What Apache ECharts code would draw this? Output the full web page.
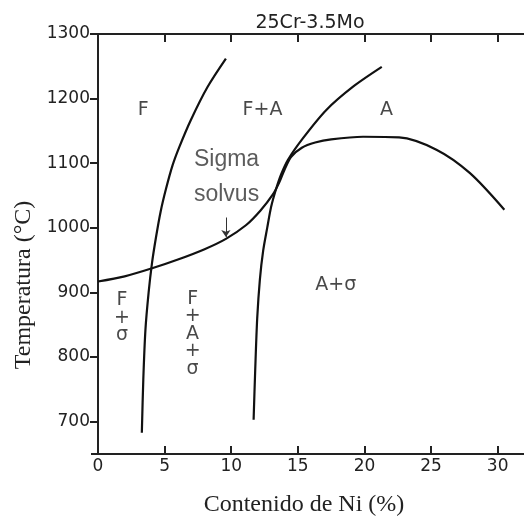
<!DOCTYPE html>
<html>
<head>
<meta charset="utf-8">
<script src="https://cdn.jsdelivr.net/npm/echarts@6/dist/echarts.min.js"></script>
<style>
    html, body {margin: 0; padding: 0; background: #fff;}
    #chart {width: 524px; height: 517px;}
</style>
</head>
<body>
<div id="chart"></div>
<script>
// 曲线数据 (Ni %, 温度 °C)
var ferriteNi = [3.29, 3.4, 3.56, 3.8, 4.05, 4.35, 4.7, 5.1, 5.6, 6.1, 6.97, 8.22, 9.6];
var ferriteT = [683, 765, 842, 900, 945, 985, 1025, 1060, 1097, 1125, 1167, 1218, 1262];

var austeniteNi = [11.68, 11.8, 11.95, 12.15, 12.4, 12.7, 13.0, 13.35, 13.75, 14.25, 15.36, 17.12, 19.12, 21.3];
var austeniteT = [703, 780, 860, 920, 965, 1000, 1033, 1059, 1083, 1105, 1138, 1182, 1218, 1249];

var sigmaNi = [0, 2, 4, 6, 8, 9.6, 11.1, 12.2, 13.1, 13.6, 14.0, 14.5, 15.3, 16.3, 17.5, 19.9, 22.6, 25.4, 27.9, 30.5];
var sigmaT = [917, 925, 937, 951, 967, 983, 1004, 1027, 1051, 1070, 1090, 1110, 1124, 1132, 1137, 1141, 1140, 1121, 1085, 1028];

// 区域标签
var regionNames = ['F', 'F+A', 'A', 'A+σ', 'F\n+\nσ', 'F\n+\nA\n+\nσ'];
var regionNi = [3.4, 12.35, 21.65, 17.85, 1.8, 7.1];
var regionT = [1183, 1183, 1183, 911, 861, 836];

var solvusNames = ['Sigma', 'solvus'];
var solvusNi = [9.65, 9.65];
var solvusT = [1105, 1052];

var arrowNi = 9.6;
var arrowT = [1016, 986];

// x 轴刻度 (上下边框的内刻度)
var xTicks = [5, 10, 15, 20, 25, 30];

var xName = 'Contenido de Ni (%)';
var yName = 'Temperatura (°C)';

var tMin = 650, tMax = 1300;
var tickLenT = 12;   // 刻度长度 (温度单位, 约 8px)

function pairs(xs, ys) {
    var out = [];
    for (var i = 0; i < xs.length; i++) {
        out.push([xs[i], ys[i]]);
    }
    return out;
}
function named(names, xs, ys) {
    var out = [];
    for (var i = 0; i < names.length; i++) {
        out.push({name: names[i], value: [xs[i], ys[i]]});
    }
    return out;
}
function tickLines(ticks) {
    var out = [];
    for (var i = 0; i < ticks.length; i++) {
        out.push([{coord: [ticks[i], tMin]}, {coord: [ticks[i], tMin + tickLenT]}]);
        out.push([{coord: [ticks[i], tMax]}, {coord: [ticks[i], tMax - tickLenT]}]);
    }
    return out;
}

var axisColor = '#222';
var tickFont = {color: '#222', fontFamily: 'DejaVu Sans', fontSize: 17};

var curve = function (data) {
    return {
        type: 'line',
        data: data,
        smooth: 0.3,
        symbol: 'none',
        lineStyle: {color: '#111', width: 2.2},
        silent: true
    };
};

var ferriteSeries = curve(pairs(ferriteNi, ferriteT));
// x 轴内刻度用 markLine 画
ferriteSeries.markLine = {
    silent: true,
    symbol: ['none', 'none'],
    label: {show: false},
    lineStyle: {color: axisColor, width: 2, type: 'solid'},
    data: tickLines(xTicks)
};

var sigmaSeries = curve(pairs(sigmaNi, sigmaT));
// Sigma solvus 箭头
sigmaSeries.markLine = {
    silent: true,
    symbol: ['none', 'arrow'],
    symbolSize: 7,
    label: {show: false},
    lineStyle: {color: '#333', width: 1, type: 'solid'},
    data: [[{coord: [arrowNi, arrowT[0]]}, {coord: [arrowNi, arrowT[1]]}]]
};

var option = {
    animation: false,
    title: {
        text: '25Cr-3.5Mo',
        left: 305,
        top: 9,
        textAlign: 'center',
        textStyle: {fontFamily: 'DejaVu Sans', fontSize: 19, fontWeight: 'normal', color: '#222'}
    },
    grid: {left: 98, top: 34, right: -3, bottom: 63, outerBoundsMode: 'none'},
    xAxis: [
        {
            type: 'value',
            min: 0,
            max: 32.2,
            interval: 5,
            position: 'bottom',
            name: xName,
            nameLocation: 'middle',
            nameGap: 39,
            nameTextStyle: {fontFamily: 'Liberation Serif', fontSize: 24, color: '#222', padding: [0, 17, 0, 0]},
            axisLine: {show: true, lineStyle: {color: axisColor, width: 2}},
            axisTick: {show: true, inside: true, length: 8, lineStyle: {color: axisColor, width: 2}},
            axisLabel: Object.assign({margin: 4}, tickFont),
            splitLine: {show: false}
        },
        {
            type: 'value',
            min: 0,
            max: 32.2,
            interval: 5,
            position: 'top',
            axisLine: {show: true, lineStyle: {color: axisColor, width: 2}},
            axisTick: {show: true, inside: true, length: 8, lineStyle: {color: axisColor, width: 2}},
            axisLabel: {show: false},
            splitLine: {show: false}
        }
    ],
    yAxis: [
        {
            type: 'value',
            min: tMin,
            max: tMax,
            name: yName,
            nameLocation: 'middle',
            nameGap: 48,
            nameTextStyle: {fontFamily: 'Liberation Serif', fontSize: 24, color: '#222', padding: [0, 82, 0, 0]},
            axisLine: {show: true, lineStyle: {color: axisColor, width: 2}},
            axisTick: {show: true, length: 8, lineStyle: {color: axisColor, width: 2}},
            axisLabel: Object.assign({
                margin: 8,
                showMinLabel: false,
                formatter: function (v) { return String(v); }
            }, tickFont),
            splitLine: {show: false}
        },
        {
            type: 'value',
            min: tMin,
            max: tMax,
            position: 'right',
            axisLine: {show: true, lineStyle: {color: axisColor, width: 2}},
            axisTick: {show: true, inside: true, length: 7, lineStyle: {color: axisColor, width: 2}},
            axisLabel: {show: false},
            splitLine: {show: false}
        }
    ],
    series: [
        ferriteSeries,
        curve(pairs(austeniteNi, austeniteT)),
        sigmaSeries,
        {
            type: 'scatter',
            symbolSize: 0,
            silent: true,
            data: named(regionNames, regionNi, regionT),
            label: {
                show: true,
                position: 'inside',
                formatter: '{b}',
                fontFamily: 'DejaVu Sans',
                fontSize: 19,
                lineHeight: 17.5,
                color: '#1a1a1a'
            }
        },
        {
            type: 'scatter',
            symbolSize: 0,
            silent: true,
            data: named(solvusNames, solvusNi, solvusT),
            label: {
                show: true,
                position: 'inside',
                formatter: '{b}',
                fontFamily: 'Liberation Sans',
                fontSize: 23,
                color: '#333'
            }
        }
    ]
};

var myChart = echarts.init(document.getElementById('chart'));
myChart.setOption(option);
</script>
</body>
</html>
